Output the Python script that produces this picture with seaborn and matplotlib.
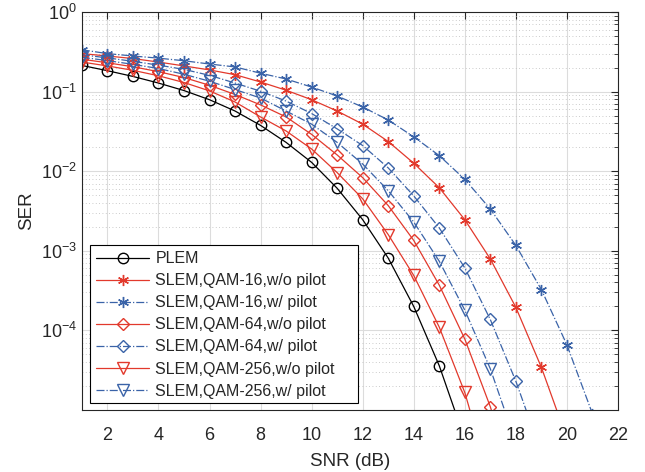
import numpy as np
import pandas as pd
import matplotlib
matplotlib.use("Agg")
import matplotlib.pyplot as plt
import seaborn as sns
from matplotlib.ticker import LogLocator, NullFormatter, FixedLocator
from matplotlib.patches import Rectangle

sns.set_theme(style="white")
plt.rcParams['font.family'] = ['Liberation Sans', 'DejaVu Sans']
plt.rcParams['mathtext.fontset'] = 'custom'
plt.rcParams['mathtext.rm'] = 'Liberation Sans'
plt.rcParams['mathtext.it'] = 'Liberation Sans'

# ---- data ----
plem = [0.213, 0.183, 0.155, 0.128, 0.103, 0.079, 0.057, 0.0376, 0.023, 0.0129,
        0.0061, 0.00246, 0.00081, 2.0e-4, 3.6e-5, 4.3e-6]
qam16_wo = [0.30, 0.28, 0.26, 0.235, 0.21, 0.187, 0.163, 0.132, 0.104, 0.079,
            0.057, 0.039, 0.0236, 0.0126, 0.0062, 2.46e-3, 7.9e-4, 1.95e-4, 3.44e-5, 4.4e-6]
qam16_w = [0.335, 0.30, 0.28, 0.263, 0.244, 0.222, 0.204, 0.17, 0.144, 0.114,
           0.088, 0.064, 0.044, 0.027, 0.0157, 0.0079, 3.35e-3, 1.17e-3, 3.26e-4, 6.6e-5, 9.0e-6]
qam64_wo = [0.255, 0.23, 0.205, 0.178, 0.15, 0.12, 0.092, 0.068, 0.048, 0.029,
            0.016, 0.0083, 0.0037, 1.35e-3, 3.7e-4, 7.8e-5, 1.1e-5, 1.0e-6]
qam64_w = [0.29, 0.265, 0.24, 0.215, 0.19, 0.16, 0.128, 0.101, 0.076, 0.053,
           0.034, 0.021, 0.011, 4.9e-3, 1.94e-3, 6.1e-4, 1.37e-4, 2.3e-5, 2.9e-6]
qam256_wo = [0.235, 0.21, 0.185, 0.158, 0.13, 0.102, 0.074, 0.048, 0.032, 0.019,
             0.0096, 0.0045, 0.0016, 4.9e-4, 1.1e-4, 1.66e-5, 1.3e-6]
qam256_w = [0.27, 0.245, 0.22, 0.195, 0.165, 0.135, 0.106, 0.083, 0.057, 0.039,
            0.023, 0.0123, 0.0057, 2.3e-3, 7.4e-4, 1.8e-4, 3.3e-5, 3.9e-6]

labels = ["PLEM", "SLEM,QAM-16,w/o pilot", "SLEM,QAM-16,w/ pilot",
          "SLEM,QAM-64,w/o pilot", "SLEM,QAM-64,w/ pilot",
          "SLEM,QAM-256,w/o pilot", "SLEM,QAM-256,w/ pilot"]
series = [plem, qam16_wo, qam16_w, qam64_wo, qam64_w, qam256_wo, qam256_w]
x_ticks = [2, 4, 6, 8, 10, 12, 14, 16, 18, 20, 22]

RED = "#E2392C"
BLUE = "#3A63A8"
styles = [
    dict(color="black", marker="o", ls="-", ms=7.5),
    dict(color=RED, marker=(6, 2, 0), ls="-", ms=8),
    dict(color=BLUE, marker=(6, 2, 0), ls="-.", ms=8),
    dict(color=RED, marker="D", ls="-", ms=6.5),
    dict(color=BLUE, marker="D", ls="-.", ms=6.5),
    dict(color=RED, marker="v", ls="-", ms=8.5),
    dict(color=BLUE, marker="v", ls="-.", ms=8.5),
]

fig = plt.figure(figsize=(6.45, 4.72), dpi=100)
ax = fig.add_axes([0.127, 0.1314, 0.831, 0.8432])

for lab, vals, st in zip(labels, series, styles):
    snr = np.arange(1, len(vals) + 1)
    df = pd.DataFrame({"SNR": snr, "SER": vals})
    sns.lineplot(data=df, x="SNR", y="SER", ax=ax, label=lab,
                 color=st["color"], linestyle=st["ls"], linewidth=0.9,
                 marker=st["marker"], markersize=st["ms"],
                 markerfacecolor="none", markeredgecolor=st["color"],
                 markeredgewidth=1.0, clip_on=True)

ax.set_yscale("log")
ax.set_xlim(1, 22)
ax.set_ylim(1e-5, 1)
ax.set_xticks(x_ticks)
ax.yaxis.set_major_locator(FixedLocator([1, 1e-1, 1e-2, 1e-3, 1e-4]))
ax.set_yticklabels([r"$10^{0}$", r"$10^{-1}$", r"$10^{-2}$", r"$10^{-3}$", r"$10^{-4}$"])
ax.yaxis.set_minor_locator(LogLocator(base=10, subs=np.arange(2, 10), numticks=20))
ax.yaxis.set_minor_formatter(NullFormatter())

ax.grid(True, which="major", color="#DCDCDC", linewidth=0.8, linestyle="-")
ax.grid(True, which="minor", axis="y", color="#BBBBBB", linewidth=0.6, linestyle=(0, (1, 3)))
ax.set_axisbelow(True)

ax.tick_params(axis="both", which="both", direction="in", top=True, right=True,
               colors="#262626", labelsize=13)
ax.tick_params(which="major", length=5, width=0.8)
ax.tick_params(which="minor", length=3, width=0.6)
ax.tick_params(axis="x", pad=12)
for s in ax.spines.values():
    s.set_color("#262626")
    s.set_linewidth(0.8)

ax.set_xlabel("SNR (dB)", fontsize=13.5, color="#262626", labelpad=7)
ax.set_ylabel("SER", fontsize=13.5, color="#262626", labelpad=4)

# legend frame (MATLAB-style with extra right padding)
x0, x1, y0, y1 = 0.0149, 0.515, 0.0176, 0.4146
frame = Rectangle((x0, y0), x1 - x0, y1 - y0, transform=ax.transAxes,
                  facecolor="white", edgecolor="black", linewidth=0.8, zorder=4.5)
ax.add_patch(frame)

leg = ax.legend(loc="upper left", bbox_to_anchor=(x0, y1), fontsize=11.5,
                frameon=False, handlelength=3.3, labelspacing=0.44, borderpad=0.4,
                handletextpad=0.4, borderaxespad=0)
leg.set_zorder(5)

fig.savefig("out.png", dpi=100)
